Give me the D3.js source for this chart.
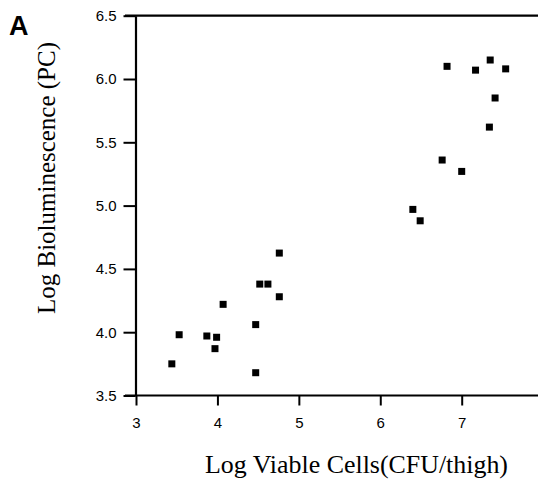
<!DOCTYPE html>
<html><head><meta charset="utf-8">
<script src="https://cdn.jsdelivr.net/npm/d3@7"></script>
<style>body{margin:0;background:#fff}svg{display:block}</style>
</head><body>
<script>
const xTicks = [3, 4, 5, 6, 7];
const yTicks = [3.5, 4.0, 4.5, 5.0, 5.5, 6.0, 6.5];
const logCells = [3.44, 3.53, 3.87, 3.99, 3.97, 4.07, 4.47, 4.47, 4.52, 4.62, 4.76, 4.76,
                  6.40, 6.49, 6.76, 7.00, 6.82, 7.17, 7.35, 7.54, 7.41, 7.34];
const logBiolum = [3.75, 3.98, 3.97, 3.96, 3.87, 4.22, 4.06, 3.68, 4.38, 4.38, 4.28, 4.625,
                   4.97, 4.88, 5.36, 5.27, 6.10, 6.07, 6.15, 6.08, 5.85, 5.62];

const W = 538, H = 481;
const svg = d3.select("body").append("svg").attr("width", W).attr("height", H);

const x = d3.scaleLinear().domain([3, 7]).range([136, 461.7]);
const y = d3.scaleLinear().domain([3.5, 6.5]).range([395.5, 15.7]);

const font = "'Liberation Sans', Arial, Helvetica, sans-serif";
const serif = "'Liberation Serif', 'Times New Roman', serif";

// Axes
const axisX = svg.append("g").attr("transform", `translate(0,${y(3.5)})`)
  .call(d3.axisBottom(x).tickValues(xTicks).tickFormat(d3.format("d")).tickSize(10).tickSizeOuter(0).tickPadding(12));
axisX.select(".domain").attr("d", `M125,0H${W}`);
const axisY = svg.append("g").attr("transform", `translate(${x(3) - 0.5},0)`)
  .call(d3.axisLeft(y).tickValues(yTicks).tickFormat(d3.format(".1f")).tickSize(12).tickSizeOuter(0).tickPadding(7));
// top line
svg.append("line").attr("x1", 125).attr("x2", W).attr("y1", y(6.5)).attr("y2", y(6.5))
  .attr("stroke", "#000").attr("stroke-width", 2.2);

svg.selectAll(".domain").attr("stroke", "#000").attr("stroke-width", 2.2);
svg.selectAll(".tick line").attr("stroke", "#000").attr("stroke-width", 2);
svg.selectAll(".tick text").attr("font-family", font).attr("font-size", 15).attr("fill", "#000");

// Points
svg.append("g").selectAll("rect").data(logCells).join("rect")
  .attr("x", (d) => x(d) - 3.5)
  .attr("y", (d, i) => y(logBiolum[i]) - 3.5)
  .attr("width", 7).attr("height", 7).attr("fill", "#000");

// Titles
svg.append("text").attr("x", 356.5).attr("y", 473).attr("text-anchor", "middle")
  .attr("font-family", serif).attr("font-size", 25.5)
  .attr("textLength", 303).attr("lengthAdjust", "spacingAndGlyphs")
  .text("Log Viable Cells(CFU/thigh)");
svg.append("text").attr("transform", "translate(55,178) rotate(-90)").attr("text-anchor", "middle")
  .attr("font-family", serif).attr("font-size", 25.5)
  .attr("textLength", 272).attr("lengthAdjust", "spacingAndGlyphs")
  .text("Log Bioluminescence (PC)");
svg.append("text").attr("x", 9).attr("y", 35)
  .attr("font-family", font).attr("font-weight", "bold").attr("font-size", 27).text("A");
</script>
</body></html>
